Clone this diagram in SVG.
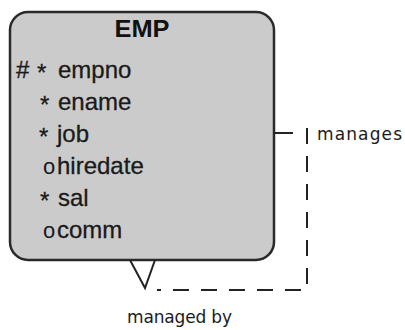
<svg xmlns="http://www.w3.org/2000/svg" width="405" height="330" viewBox="0 0 405 330">
<style>
.attr{font-family:"Liberation Sans",Arial,sans-serif;font-size:24px;fill:#1a1a1a;stroke:#1a1a1a;stroke-width:0.3}
.sym{font-family:"Liberation Sans",Arial,sans-serif;font-size:22px;fill:#1a1a1a}
.title{font-family:"Liberation Sans",Arial,sans-serif;font-size:24px;font-weight:bold;fill:#111}
.lbl{font-family:"DejaVu Sans",Verdana,sans-serif;font-size:17px;fill:#1a1a1a}
.solid{fill:none;stroke:#222;stroke-width:2}
.dash{fill:none;stroke:#222;stroke-width:2;stroke-dasharray:16 12}
</style>
<rect width="405" height="330" fill="#ffffff"/>
<g id="EMP">
<rect x="10" y="12" width="264" height="248" rx="18" ry="18" fill="#cbcbcb" stroke="#2a2a2a" stroke-width="2.5"/>
<text class="title" x="142" y="37" text-anchor="middle" textLength="55" lengthAdjust="spacingAndGlyphs">EMP</text>
<text class="attr" x="16" y="78">#</text>
<text class="attr" x="37" y="81">*</text>
<text class="attr" x="58" y="78">empno</text>
<text class="attr" x="40" y="113">*</text>
<text class="attr" x="58" y="110">ename</text>
<text class="attr" x="39" y="145">*</text>
<text class="attr" x="57" y="142">job</text>
<text class="sym" x="43" y="174">o</text>
<text class="attr" x="57" y="174">hiredate</text>
<text class="attr" x="40" y="209">*</text>
<text class="attr" x="58" y="206">sal</text>
<text class="sym" x="43" y="238">o</text>
<text class="attr" x="57" y="238">comm</text>
</g>
<g id="connectors">
<path class="solid" d="M274 133 H293"/>
<path class="dash" d="M307 128 V290 H157"/>
<path class="solid" d="M130 260 L145 288 L155 260"/>
<text class="lbl" x="317" y="140" textLength="85">manages</text>
<text class="lbl" x="127" y="323" textLength="105">managed by</text>
</g>
</svg>
